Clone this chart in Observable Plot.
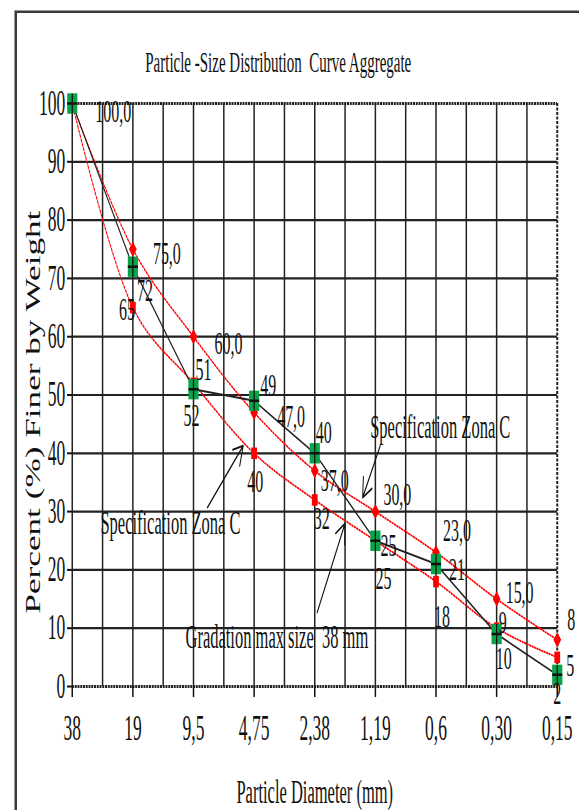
<!DOCTYPE html>
<html><head><meta charset="utf-8">
<script src="https://cdn.jsdelivr.net/npm/d3@7"></script>
<script src="https://cdn.jsdelivr.net/npm/@observablehq/plot@0.6"></script>
<style>
html,body{margin:0;padding:0;background:#fff;overflow:hidden;}
#chart{position:relative;width:579px;height:810px;}
#chart svg{display:block}
#border{position:absolute;left:15px;top:11px;width:700px;height:900px;border-left:2px solid #3a3a3a;border-top:2px solid #3a3a3a;box-shadow:-1px -1px 0 #9a9a9a;pointer-events:none;}
</style>
</head><body><div id="chart"><div id="border"></div></div>
<script>
// ---- data ----
const categories = ["38","19","9,5","4,75","2,38","1,19","0,6","0,30","0,15"];
const gradation  = [100,72,51,49,40,25,21,9,2];
const upperSpec  = [100,75,60,47,37,30,23,15,8];
const lowerSpec  = [100,65,52,40,32,25,18,10,5];
const upperLabels = ["100,0","75,0","60,0","47,0","37,0","30,0","23,0","15,0","8"];
const lowerLabels = [null,"65","52","40","32","25","18","10","5"];
const gradationLabels = [null,"72","51","49","40","25","21","9","2"];
const yTicks = [0,10,20,30,40,50,60,70,80,90,100];

const titleText = "Particle -Size Distribution  Curve Aggregate";
const xTitle = "Particle Diameter (mm)";
const yTitle = "Percent (%) Finer by Weight";

// annotation positions (data units: category index, percent)
const notes = [
  {text: "Specification Zona C", x: 1.62, y: 28.0},
  {text: "Specification Zona C", x: 6.07, y: 44.4},
  {text: "Gradation max size  38 mm", x: 3.375, y: 8.4}
];
const pointers = [
  {x1: 2.23, y1: 30.7, x2: 2.82, y2: 41.3},
  {x1: 5.08, y1: 41.3, x2: 4.79, y2: 32.4},
  {x1: 4.04, y1: 12.7, x2: 4.50, y2: 28.0}
];

// label offsets (styling, virtual px)
const upperOff = [[82,8],[68,4],[70,7],[74,4],[40,10],[44,-17],[42,-22],[46,-6],[28,-20]];
const lowerOff = [null,[-12,2],[-4,32],[2,28],[14,19],[16,38],[12,35],[14,31],[26,8]];
const gradOff  = [null,[24,24],[20,-19],[28,-15],[18,-21],[26,5],[42,6],[12,-11],[0,19]];

// ---- build ----
const S = 0.5;               // horizontal squeeze of the reference
const W = 579 / S, H = 810;
const ML = 144, MR = W - 1114, MT = 103, MB = 124;
const FONT = "Liberation Serif, Times New Roman, serif";

const rows = (vals) => vals.map((v, i) => ({i, v}));
const grad = rows(gradation), up = rows(upperSpec), lo = rows(lowerSpec);

const labelMarks = [];
function addLabels(vals, labels, offs) {
  vals.forEach((v, i) => {
    if (labels[i] == null) return;
    labelMarks.push(Plot.text([{i, v, t: labels[i]}], {
      x: "i", y: "v", text: "t", dx: offs[i][0], dy: offs[i][1],
      fontSize: 32, fontFamily: FONT, fill: "#111"
    }));
  });
}
addLabels(upperSpec, upperLabels, upperOff);
addLabels(lowerSpec, lowerLabels, lowerOff);
addLabels(gradation, gradationLabels, gradOff);

const halfSteps = d3.range(0, categories.length - 0.5 + 0.01, 0.5);

const chart = Plot.plot({
  width: W, height: H,
  marginLeft: ML, marginRight: MR, marginTop: MT, marginBottom: MB,
  style: {fontFamily: FONT, color: "#111", background: "transparent"},
  x: {type: "linear", domain: [0, categories.length - 1]},
  y: {domain: [0, 100]},
  marks: [
    Plot.ruleX(halfSteps.filter(d => d > 0 && d < categories.length - 1), {stroke: "#222", strokeWidth: 3}),
    Plot.ruleY(yTicks.filter(d => d > 0 && d < 100), {stroke: "#222", strokeWidth: 2.2}),
    Plot.ruleX([0], {stroke: "#222", strokeWidth: 3}),
    Plot.ruleX([categories.length - 1], {stroke: "#222", strokeWidth: 4, strokeDasharray: "3 1.5"}),
    Plot.ruleY([0, 100], {stroke: "#222", strokeWidth: 3, strokeDasharray: "4 1.5"}),
    Plot.axisY({ticks: yTicks, tickSize: 10, tickPadding: 4, fontSize: 35, fontFamily: FONT, label: null, stroke: "#111", strokeWidth: 2}),
    Plot.axisX({ticks: d3.range(categories.length), tickFormat: i => categories[i], tickSize: 11, tickPadding: 18, fontSize: 35, fontFamily: FONT, label: null, stroke: "#111", strokeWidth: 3}),
    // spec curves
    Plot.line(up, {x: "i", y: "v", stroke: "#ff0000", strokeWidth: 2, strokeDasharray: "2.5 2.5", curve: "catmull-rom"}),
    Plot.line(lo, {x: "i", y: "v", stroke: "#ff0000", strokeWidth: 2, strokeDasharray: "2.5 2.5", curve: "catmull-rom"}),
    Plot.line(grad, {x: "i", y: "v", stroke: "#222", strokeWidth: 2}),
    Plot.dot(lo, {x: "i", y: "v", symbol: "square", r: 6.5, fill: "#ff0000"}),
    Plot.dot(up, {x: "i", y: "v", symbol: "diamond2", r: 7, fill: "#ff0000"}),
    Plot.dot(grad, {x: "i", y: "v", symbol: "square", r: 11.5, fill: "#0aa34a"}),
    Plot.dot(grad, {x: "i", y: "v", symbol: "plus", r: 6.5, stroke: "#111", strokeWidth: 2.5}),
    ...labelMarks,
    Plot.text(notes, {x: "x", y: "y", text: "text", fontSize: 33, fontFamily: FONT, fill: "#111"}),
    Plot.arrow(pointers, {x1: "x1", y1: "y1", x2: "x2", y2: "y2", stroke: "#111", strokeWidth: 2, headLength: 16}),
    Plot.text([titleText], {frameAnchor: "top", lineAnchor: "middle", dx: 556 - 629, dy: -41, fontSize: 30, fontFamily: FONT, fill: "#111"}),
    Plot.text([xTitle], {frameAnchor: "bottom", lineAnchor: "middle", dx: 0, dy: 106, fontSize: 33, fontFamily: FONT, fill: "#111"}),
    Plot.text([yTitle], {frameAnchor: "left", y: [12.5], dx: -78, rotate: -90, textAnchor: "start", lineAnchor: "middle", fontSize: 40, fontFamily: FONT, fill: "#111", className: "ytitle"})
  ]
});

chart.setAttribute("width", 579);
chart.setAttribute("height", 810);
chart.setAttribute("preserveAspectRatio", "none");
chart.style.setProperty("width", "579px", "important");
chart.style.setProperty("height", "810px", "important");
chart.style.setProperty("max-width", "none", "important");
d3.select(chart).selectAll(".ytitle text").attr("textLength", 403).attr("lengthAdjust", "spacingAndGlyphs");
const host = document.getElementById("chart");
host.insertBefore(chart, host.firstChild);
</script>
</body></html>
